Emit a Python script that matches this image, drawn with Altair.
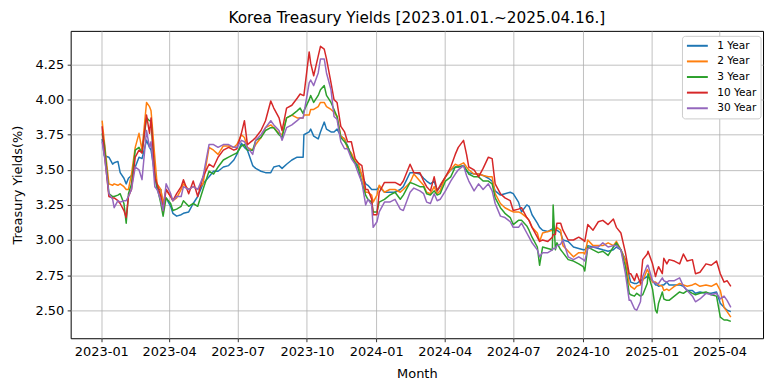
import altair as alt
import pandas as pd

dates = [
"2023-01-02","2023-01-05","2023-01-11","2023-01-16","2023-01-18","2023-01-23","2023-01-26","2023-01-31","2023-02-03","2023-02-06",
"2023-02-10","2023-02-15","2023-02-20","2023-02-24","2023-03-02","2023-03-06","2023-03-08","2023-03-13","2023-03-16","2023-03-21",
"2023-03-24","2023-03-28","2023-04-03","2023-04-06","2023-04-11","2023-04-17","2023-04-20","2023-04-27","2023-05-03","2023-05-09",
"2023-05-16","2023-05-24","2023-05-30","2023-06-05","2023-06-12","2023-06-19","2023-06-26","2023-06-30","2023-07-06","2023-07-10",
"2023-07-14","2023-07-21","2023-07-25","2023-08-01","2023-08-07","2023-08-14","2023-08-18","2023-08-25","2023-08-29","2023-09-04",
"2023-09-11","2023-09-18","2023-09-22","2023-09-26","2023-09-27","2023-10-04","2023-10-06","2023-10-10","2023-10-16","2023-10-19",
"2023-10-24","2023-10-27","2023-11-02","2023-11-06","2023-11-10","2023-11-15","2023-11-20","2023-11-24","2023-11-29","2023-12-04",
"2023-12-08","2023-12-13","2023-12-18","2023-12-21","2023-12-26","2023-12-28","2024-01-02","2024-01-05","2024-01-12","2024-01-19",
"2024-01-26","2024-02-02","2024-02-06","2024-02-15","2024-02-20","2024-02-28","2024-03-04","2024-03-08","2024-03-13","2024-03-18",
"2024-03-22","2024-03-26","2024-04-02","2024-04-09","2024-04-15","2024-04-19","2024-04-26","2024-04-30","2024-05-03","2024-05-10",
"2024-05-16","2024-05-22","2024-05-29","2024-06-03","2024-06-07","2024-06-14","2024-06-20","2024-06-27","2024-07-01","2024-07-08",
"2024-07-12","2024-07-19","2024-07-22","2024-07-26","2024-08-02","2024-08-05","2024-08-09","2024-08-16","2024-08-22","2024-08-23",
"2024-08-26","2024-08-28","2024-09-02","2024-09-05","2024-09-12","2024-09-19","2024-09-26","2024-10-02","2024-10-04","2024-10-08",
"2024-10-15","2024-10-22","2024-10-28","2024-11-04","2024-11-11","2024-11-15","2024-11-21","2024-11-27","2024-12-02","2024-12-04",
"2024-12-09","2024-12-12","2024-12-17","2024-12-20","2024-12-26","2024-12-27","2025-01-02","2025-01-06","2025-01-08","2025-01-10",
"2025-01-15","2025-01-17","2025-01-21","2025-01-24","2025-01-31","2025-02-07","2025-02-12","2025-02-17","2025-02-24","2025-02-28",
"2025-03-06","2025-03-14","2025-03-21","2025-03-28","2025-04-02","2025-04-07","2025-04-11","2025-04-16",
]

yield_1y = [
3.72,3.60,3.59,3.54,3.55,3.56,3.48,3.44,3.40,3.44,
3.46,3.52,3.59,3.58,3.71,3.66,3.64,3.47,3.36,3.36,
3.24,3.30,3.24,3.19,3.17,3.18,3.19,3.20,3.26,3.31,
3.40,3.45,3.49,3.49,3.52,3.53,3.57,3.61,3.69,3.66,
3.64,3.53,3.51,3.49,3.48,3.48,3.52,3.53,3.51,3.54,
3.57,3.59,3.59,3.59,3.75,3.77,3.79,3.74,3.72,3.77,
3.84,3.79,3.77,3.77,3.79,3.74,3.72,3.67,3.60,3.55,
3.53,3.46,3.40,3.39,3.36,3.36,3.36,3.38,3.34,3.34,
3.34,3.36,3.38,3.48,3.48,3.47,3.44,3.42,3.40,3.42,
3.35,3.38,3.45,3.50,3.52,3.52,3.53,3.49,3.48,3.47,
3.47,3.46,3.44,3.42,3.35,3.32,3.33,3.34,3.33,3.27,
3.20,3.25,3.24,3.18,3.12,3.09,3.07,3.06,3.08,3.08,
3.07,3.07,3.05,3.00,2.99,2.95,2.94,2.93,2.93,2.96,
2.95,2.94,2.93,2.92,2.93,2.95,2.93,2.86,2.74,2.70,
2.69,2.69,2.71,2.72,2.74,2.74,2.71,2.68,2.68,2.67,
2.68,2.68,2.70,2.68,2.68,2.68,2.67,2.64,2.64,2.62,
2.63,2.62,2.62,2.63,2.55,2.52,2.50,2.49,
]

yield_2y = [
3.85,3.70,3.40,3.39,3.40,3.39,3.40,3.38,3.36,3.36,
3.47,3.66,3.76,3.64,3.98,3.95,3.92,3.59,3.40,3.36,
3.26,3.36,3.31,3.28,3.30,3.36,3.40,3.36,3.38,3.36,
3.40,3.66,3.64,3.61,3.67,3.67,3.66,3.68,3.75,3.73,
3.66,3.64,3.68,3.73,3.80,3.82,3.80,3.76,3.75,3.87,
3.89,3.87,3.87,3.87,3.89,3.89,3.93,3.93,3.95,3.98,
3.98,3.95,3.93,3.91,3.88,3.74,3.72,3.65,3.62,3.56,
3.55,3.46,3.34,3.34,3.32,3.27,3.32,3.39,3.34,3.36,
3.36,3.34,3.36,3.41,3.47,3.42,3.39,3.34,3.33,3.38,
3.33,3.35,3.45,3.50,3.54,3.53,3.55,3.52,3.50,3.47,
3.47,3.46,3.45,3.45,3.33,3.26,3.23,3.21,3.20,3.20,
3.19,3.16,3.14,3.09,3.05,2.99,3.05,3.06,3.07,3.07,
3.07,3.09,3.07,2.96,2.92,2.88,2.91,2.91,2.90,3.00,
2.96,2.96,2.96,2.98,2.96,2.99,2.93,2.85,2.69,2.67,
2.65,2.67,2.68,2.71,2.79,2.78,2.70,2.70,2.69,2.68,
2.67,2.64,2.65,2.64,2.67,2.69,2.68,2.67,2.68,2.69,
2.67,2.68,2.67,2.69,2.64,2.52,2.49,2.45,
]

yield_3y = [
3.76,3.68,3.33,3.31,3.31,3.32,3.33,3.26,3.12,3.33,
3.40,3.64,3.66,3.62,3.87,3.85,3.85,3.45,3.38,3.26,
3.17,3.30,3.26,3.21,3.22,3.24,3.28,3.24,3.26,3.24,
3.36,3.49,3.47,3.52,3.57,3.59,3.61,3.62,3.67,3.68,
3.64,3.64,3.71,3.73,3.78,3.80,3.80,3.75,3.73,3.87,
3.89,3.92,3.94,3.90,3.92,4.00,4.03,3.98,4.03,4.07,
4.10,4.03,3.98,3.93,3.88,3.73,3.70,3.67,3.60,3.55,
3.51,3.41,3.32,3.29,3.27,3.20,3.20,3.27,3.29,3.32,
3.34,3.29,3.32,3.41,3.40,3.38,3.38,3.33,3.32,3.35,
3.32,3.33,3.42,3.45,3.52,3.52,3.53,3.50,3.47,3.45,
3.45,3.42,3.42,3.40,3.30,3.23,3.19,3.16,3.11,3.14,
3.14,3.10,3.07,3.02,2.95,2.82,2.95,2.94,2.93,3.25,
2.93,2.98,2.93,2.91,2.86,2.85,2.83,2.81,2.78,2.95,
2.93,2.91,2.92,2.89,2.95,2.98,2.93,2.81,2.62,2.61,
2.60,2.62,2.60,2.61,2.69,2.76,2.65,2.50,2.48,2.55,
2.63,2.58,2.57,2.57,2.60,2.63,2.62,2.64,2.62,2.61,
2.62,2.63,2.61,2.60,2.45,2.43,2.43,2.42,
]

yield_10y = [
3.81,3.62,3.31,3.30,3.30,3.28,3.26,3.21,3.16,3.31,
3.36,3.59,3.64,3.62,3.89,3.76,3.87,3.45,3.40,3.31,
3.21,3.36,3.31,3.28,3.33,3.38,3.43,3.33,3.42,3.31,
3.45,3.54,3.52,3.59,3.64,3.66,3.64,3.65,3.76,3.85,
3.68,3.71,3.73,3.78,3.85,3.99,3.94,3.87,3.78,3.94,
3.96,4.01,4.04,4.03,4.03,4.34,4.26,4.17,4.31,4.38,
4.36,4.29,4.12,4.00,3.98,3.81,3.77,3.70,3.70,3.58,
3.55,3.53,3.36,3.36,3.29,3.18,3.18,3.34,3.41,3.41,
3.41,3.39,3.42,3.54,3.48,3.48,3.42,3.38,3.35,3.45,
3.35,3.39,3.45,3.52,3.61,3.66,3.71,3.61,3.52,3.50,
3.45,3.51,3.59,3.58,3.40,3.33,3.30,3.28,3.21,3.22,
3.23,3.16,3.14,3.09,3.02,2.99,3.00,2.99,3.02,3.04,
3.04,3.12,3.12,3.07,3.00,3.00,3.02,3.00,2.99,3.11,
3.07,3.13,3.14,3.11,3.15,3.09,3.05,2.91,2.76,2.76,
2.71,2.76,2.69,2.86,2.90,2.92,2.83,2.74,2.78,2.81,
2.76,2.87,2.83,2.86,2.85,2.83,2.90,2.85,2.86,2.76,
2.77,2.83,2.82,2.85,2.76,2.70,2.71,2.67,
]

yield_30y = [
3.70,3.60,3.33,3.29,3.23,3.28,3.27,3.28,3.28,3.31,
3.36,3.52,3.50,3.43,3.78,3.66,3.70,3.38,3.36,3.28,
3.21,3.40,3.33,3.28,3.31,3.31,3.38,3.36,3.38,3.36,
3.45,3.68,3.68,3.66,3.68,3.68,3.66,3.66,3.71,3.70,
3.66,3.61,3.71,3.75,3.80,3.85,3.82,3.78,3.71,3.80,
3.82,3.85,3.87,3.87,3.90,4.12,4.14,4.10,4.19,4.29,
4.29,4.19,4.07,3.88,3.86,3.70,3.65,3.65,3.58,3.54,
3.48,3.41,3.25,3.29,3.25,3.09,3.13,3.20,3.27,3.27,
3.29,3.22,3.21,3.34,3.37,3.35,3.33,3.27,3.26,3.33,
3.28,3.29,3.35,3.42,3.47,3.50,3.53,3.46,3.42,3.35,
3.40,3.36,3.40,3.35,3.26,3.17,3.16,3.13,3.09,3.09,
3.12,3.05,3.02,2.98,2.93,2.88,2.91,2.91,2.93,2.94,
2.94,2.96,2.97,3.00,2.88,2.86,2.88,2.86,2.85,2.94,
2.95,2.95,2.98,2.95,2.96,2.96,2.93,2.76,2.57,2.57,
2.51,2.50,2.56,2.74,2.82,2.82,2.71,2.69,2.69,2.69,
2.73,2.71,2.70,2.71,2.71,2.73,2.67,2.64,2.60,2.56,
2.58,2.62,2.61,2.62,2.58,2.60,2.57,2.52,
]

series_names = ["1 Year", "2 Year", "3 Year", "10 Year", "30 Year"]
series_colors = ["#1f77b4", "#ff7f0e", "#2ca02c", "#d62728", "#9467bd"]
y_ticks = [2.50, 2.75, 3.00, 3.25, 3.50, 3.75, 4.00, 4.25]
x_tick_months = [(2023, 1), (2023, 4), (2023, 7), (2023, 10), (2024, 1),
                 (2024, 4), (2024, 7), (2024, 10), (2025, 1), (2025, 4)]
title_text = "Korea Treasury Yields [2023.01.01.~2025.04.16.]"

all_series = [yield_1y, yield_2y, yield_3y, yield_10y, yield_30y]
for s in all_series:
    assert len(s) == len(dates), len(s)

rows = []
for name, vals in zip(series_names, all_series):
    for d, v in zip(dates, vals):
        rows.append({"date": d, "series": name, "yield": v})
df = pd.DataFrame(rows)

FONT = "DejaVu Sans"

x_domain = [alt.DateTime(year=2022, month=11, date=21, hours=6, utc=True),
            alt.DateTime(year=2025, month=5, date=28, hours=18, utc=True)]
x_values = [alt.DateTime(year=y, month=m, date=1, utc=True) for y, m in x_tick_months]

chart = alt.Chart(df).mark_line(strokeWidth=1.5, strokeJoin="round", clip=True).encode(
    x=alt.X("date:T",
            scale=alt.Scale(type="utc", domain=x_domain),
            axis=alt.Axis(values=x_values, format="%Y-%m", title="Month",
                          labelAngle=0, titlePadding=9)),
    y=alt.Y("yield:Q",
            scale=alt.Scale(domain=[2.30, 4.49], nice=False, zero=False),
            axis=alt.Axis(values=y_ticks, format=".2f", title="Treasury Yields(%)",
                          titlePadding=10)),
    color=alt.Color("series:N",
                    scale=alt.Scale(domain=series_names, range=series_colors),
                    legend=alt.Legend(title=None, orient="none", legendX=614.5, legendY=5,
                                      symbolType="M-2.1,0L2.1,0", symbolSize=100,
                                      symbolOffset=5.5,
                                      symbolStrokeWidth=2, labelFont=FONT,
                                      labelFontSize=10.6, labelColor="black",
                                      padding=4, rowPadding=3.7, labelOffset=14,
                                      fillColor="white", strokeColor="#cccccc",
                                      cornerRadius=3)),
).properties(
    width=696,
    height=309,
    title=alt.TitleParams(title_text, font=FONT, fontSize=15.4, fontWeight="normal",
                          color="black", anchor="middle", offset=5),
    autosize=alt.AutoSizeParams(type="none"),
    padding={"left": 63, "top": 22, "right": 6, "bottom": 45},
).configure_view(
    stroke="black", strokeWidth=1
).configure_axis(
    labelFont=FONT, titleFont=FONT, labelFontSize=13, titleFontSize=13,
    labelColor="black", titleColor="black", titleFontWeight="normal",
    tickColor="black", tickSize=3.5, tickWidth=0.8,
    gridColor="#b0b0b0", gridWidth=0.8, gridOpacity=1, domain=False, labelPadding=3.5,
)

chart.save("out.html", embed_options={"renderer": "svg", "actions": False})
